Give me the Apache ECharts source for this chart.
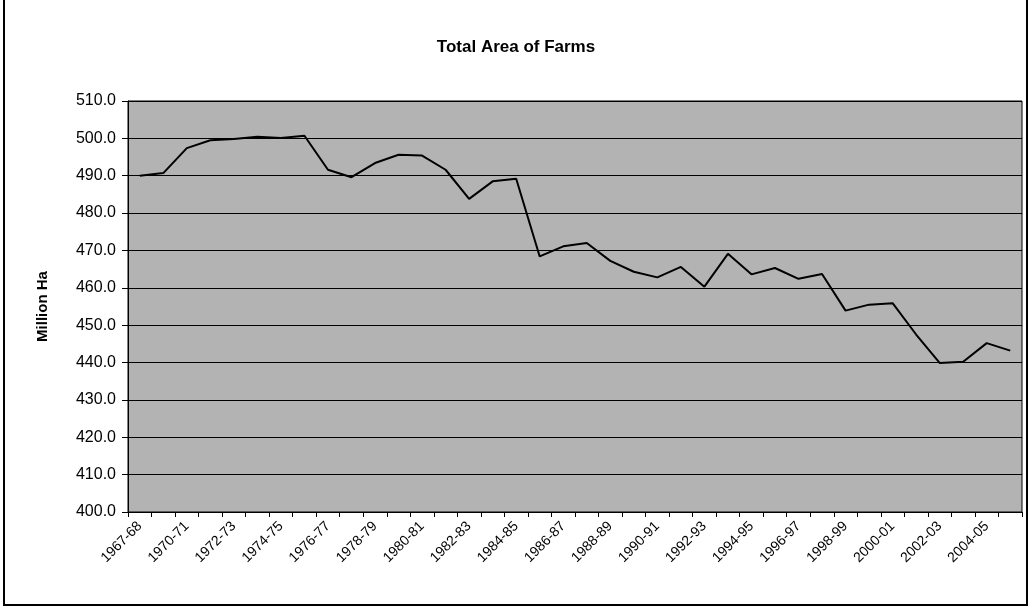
<!DOCTYPE html>
<html>
<head>
<meta charset="utf-8">
<script src="https://cdn.jsdelivr.net/npm/echarts@6/dist/echarts.min.js"></script>
<style>
html,body{margin:0;padding:0;background:#fff;}
#chart{width:1032px;height:609px;}
</style>
</head>
<body>
<div id="chart"></div>
<script>
const categories = [
  "1967-68","1968-69","1970-71","1971-72","1972-73","1973-74","1974-75","1975-76",
  "1976-77","1977-78","1978-79","1979-80","1980-81","1981-82","1982-83","1983-84",
  "1984-85","1985-86","1986-87","1987-88","1988-89","1989-90","1990-91","1991-92",
  "1992-93","1993-94","1994-95","1995-96","1996-97","1997-98","1998-99","1999-00",
  "2000-01","2001-02","2002-03","2003-04","2004-05","2005-06"
];
const farmArea = [
  490.0, 490.7, 497.4, 499.5, 499.8, 500.4, 500.1, 500.7,
  491.6, 489.6, 493.4, 495.6, 495.4, 491.6, 483.8, 488.5,
  489.2, 468.4, 471.1, 472.0, 467.2, 464.3, 462.8, 465.6,
  460.3, 469.1, 463.6, 465.3, 462.4, 463.7, 453.9, 455.5,
  455.9, 447.5, 439.9, 440.2, 445.2, 443.2
];
const yMin = 400, yMax = 510, yStep = 10;

const chart = echarts.init(document.getElementById('chart'), null, {renderer:'canvas'});
const font = 'Liberation Sans, Arial, sans-serif';
chart.setOption({
  backgroundColor: '#ffffff',
  animation: false,
  title: {
    text: 'Total Area of Farms',
    left: 'center',
    top: 34,
    textStyle: {fontFamily: font, fontSize: 17, fontWeight: 'bold', color: '#000'}
  },
  graphic: [{
    type: 'rect',
    shape: {x: 4, y: -10, width: 1023, height: 615},
    style: {fill: 'none', stroke: '#000', lineWidth: 2},
    silent: true
  }],
  grid: {
    left: 128, right: 10, top: 101, bottom: 97,
    show: true,
    backgroundColor: '#b3b3b3',
    borderColor: '#000',
    borderWidth: 1
  },
  xAxis: {
    type: 'category',
    data: categories,
    boundaryGap: true,
    axisLine: {show: true, lineStyle: {color: '#000', width: 1}},
    axisTick: {show: true, interval: 0, length: 5, lineStyle: {color: '#000'}},
    axisLabel: {
      interval: 1,
      rotate: 45,
      margin: 12,
      fontFamily: font,
      fontSize: 14,
      color: '#000'
    },
    splitLine: {show: false}
  },
  yAxis: {
    type: 'value',
    min: yMin,
    max: yMax,
    interval: yStep,
    name: 'Million Ha',
    nameLocation: 'middle',
    nameRotate: 90,
    nameGap: 78,
    nameTextStyle: {fontFamily: font, fontSize: 15, fontWeight: 'bold', color: '#000'},
    axisLine: {show: true, lineStyle: {color: '#000', width: 1}},
    axisTick: {show: true, length: 6, lineStyle: {color: '#000'}},
    axisLabel: {
      margin: 12,
      fontFamily: font,
      fontSize: 16,
      color: '#000',
      formatter: v => v.toFixed(1)
    },
    splitLine: {show: true, lineStyle: {color: '#000', width: 1}}
  },
  series: [{
    type: 'line',
    data: farmArea,
    symbol: 'none',
    lineStyle: {color: '#000', width: 2},
    itemStyle: {color: '#000'}
  }]
});
</script>
</body>
</html>
